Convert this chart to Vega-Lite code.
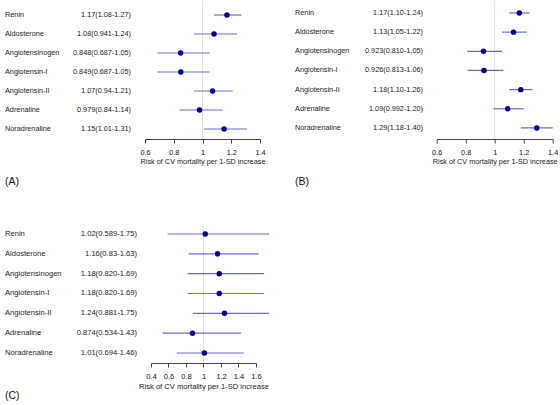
{
  "$schema": "https://vega.github.io/schema/vega-lite/v6.json",
  "padding": {"left": 4, "top": 0, "right": 0, "bottom": 0},
  "background": "white",
  "datasets": {
    "A": [
      {"marker": "Renin", "est": 1.17, "lo": 1.08, "hi": 1.27, "label": "1.17(1.08-1.27)"},
      {"marker": "Aldosterone", "est": 1.08, "lo": 0.941, "hi": 1.24, "label": "1.08(0.941-1.24)"},
      {"marker": "Angiotensinogen", "est": 0.848, "lo": 0.687, "hi": 1.05, "label": "0.848(0.687-1.05)"},
      {"marker": "Angiotensin-I", "est": 0.849, "lo": 0.687, "hi": 1.05, "label": "0.849(0.687-1.05)"},
      {"marker": "Angiotensin-II", "est": 1.07, "lo": 0.94, "hi": 1.21, "label": "1.07(0.94-1.21)"},
      {"marker": "Adrenaline", "est": 0.979, "lo": 0.84, "hi": 1.14, "label": "0.979(0.84-1.14)"},
      {"marker": "Noradrenaline", "est": 1.15, "lo": 1.01, "hi": 1.31, "label": "1.15(1.01-1.31)"}
    ],
    "B": [
      {"marker": "Renin", "est": 1.17, "lo": 1.10, "hi": 1.24, "label": "1.17(1.10-1.24)"},
      {"marker": "Aldosterone", "est": 1.13, "lo": 1.05, "hi": 1.22, "label": "1.13(1.05-1.22)"},
      {"marker": "Angiotensinogen", "est": 0.923, "lo": 0.810, "hi": 1.05, "label": "0.923(0.810-1.05)"},
      {"marker": "Angiotensin-I", "est": 0.926, "lo": 0.813, "hi": 1.06, "label": "0.926(0.813-1.06)"},
      {"marker": "Angiotensin-II", "est": 1.18, "lo": 1.10, "hi": 1.26, "label": "1.18(1.10-1.26)"},
      {"marker": "Adrenaline", "est": 1.09, "lo": 0.992, "hi": 1.20, "label": "1.09(0.992-1.20)"},
      {"marker": "Noradrenaline", "est": 1.29, "lo": 1.18, "hi": 1.40, "label": "1.29(1.18-1.40)"}
    ],
    "C": [
      {"marker": "Renin", "est": 1.02, "lo": 0.589, "hi": 1.75, "label": "1.02(0.589-1.75)"},
      {"marker": "Aldosterone", "est": 1.16, "lo": 0.83, "hi": 1.63, "label": "1.16(0.83-1.63)"},
      {"marker": "Angiotensinogen", "est": 1.18, "lo": 0.820, "hi": 1.69, "label": "1.18(0.820-1.69)"},
      {"marker": "Angiotensin-I", "est": 1.18, "lo": 0.820, "hi": 1.69, "label": "1.18(0.820-1.69)"},
      {"marker": "Angiotensin-II", "est": 1.24, "lo": 0.881, "hi": 1.75, "label": "1.24(0.881-1.75)"},
      {"marker": "Adrenaline", "est": 0.874, "lo": 0.534, "hi": 1.43, "label": "0.874(0.534-1.43)"},
      {"marker": "Noradrenaline", "est": 1.01, "lo": 0.694, "hi": 1.46, "label": "1.01(0.694-1.46)"}
    ],
    "ref": [{"ref": 1}]
  },
  "columns": 2,
  "bounds": "flush",
  "spacing": {"row": 87, "column": 176.7},
  "concat": [
    {
      "width": 115, "height": 138,
      "data": {"name": "A"},
      "title": {"text": "(A)", "orient": "bottom", "anchor": "start", "frame": "bounds", "offset": 11.5, "fontSize": 10.5, "fontWeight": "normal", "color": "#111"},
      "layer": [
        {"data": {"name": "ref"}, "mark": {"type": "rule", "color": "#e2e2e2", "strokeWidth": 1},
         "encoding": {"x": {"field": "ref", "type": "quantitative", "scale": {"domain": [0.6, 1.4], "nice": false, "zero": false}, "axis": {"title": "Risk of CV mortality per 1-SD increase", "values": [0.6, 0.8, 1, 1.2, 1.4], "labelFontSize": 7.3, "titleFontSize": 7.3}}}},
        {"mark": {"type": "rule", "color": "#6b6bcc", "strokeWidth": 1.2},
         "encoding": {"y": {"field": "marker", "type": "nominal", "sort": null, "axis": null, "scale": {"type": "point", "padding": 0.632, "align": 0.583}},
                      "x": {"field": "lo", "type": "quantitative", "axis": {"title": "Risk of CV mortality per 1-SD increase", "values": [0.6, 0.8, 1, 1.2, 1.4], "labelFontSize": 7.3, "titleFontSize": 7.3}},
                      "x2": {"field": "hi"}}},
        {"mark": {"type": "circle", "color": "#00008b", "opacity": 1, "size": 30},
         "encoding": {"y": {"field": "marker", "type": "nominal", "sort": null},
                      "x": {"field": "est", "type": "quantitative", "axis": {"title": "Risk of CV mortality per 1-SD increase", "values": [0.6, 0.8, 1, 1.2, 1.4], "labelFontSize": 7.3, "titleFontSize": 7.3}}}},
        {"mark": {"type": "text", "align": "left", "fontSize": 7.3, "color": "#222"},
         "encoding": {"y": {"field": "marker", "type": "nominal", "sort": null},
                      "x": {"datum": -0.3739, "type": "quantitative", "axis": {"title": "Risk of CV mortality per 1-SD increase", "values": [0.6, 0.8, 1, 1.2, 1.4], "labelFontSize": 7.3, "titleFontSize": 7.3}},
                      "text": {"field": "marker"}}},
        {"mark": {"type": "text", "align": "right", "fontSize": 7.3, "color": "#222"},
         "encoding": {"y": {"field": "marker", "type": "nominal", "sort": null},
                      "x": {"datum": 0.5026, "type": "quantitative", "axis": {"title": "Risk of CV mortality per 1-SD increase", "values": [0.6, 0.8, 1, 1.2, 1.4], "labelFontSize": 7.3, "titleFontSize": 7.3}},
                      "text": {"field": "label"}}}
      ]
    },
    {
      "width": 116, "height": 138,
      "data": {"name": "B"},
      "title": {"text": "(B)", "orient": "bottom", "anchor": "start", "frame": "bounds", "offset": 11.5, "fontSize": 10.5, "fontWeight": "normal", "color": "#111"},
      "layer": [
        {"data": {"name": "ref"}, "mark": {"type": "rule", "color": "#e2e2e2", "strokeWidth": 1},
         "encoding": {"x": {"field": "ref", "type": "quantitative", "scale": {"domain": [0.6, 1.4], "nice": false, "zero": false}, "axis": {"title": "Risk of CV mortality per 1-SD increase", "values": [0.6, 0.8, 1, 1.2, 1.4], "labelFontSize": 7.3, "titleFontSize": 7.3}}}},
        {"mark": {"type": "rule", "color": "#6b6bcc", "strokeWidth": 1.2},
         "encoding": {"y": {"field": "marker", "type": "nominal", "sort": null, "axis": null, "scale": {"type": "point", "padding": 0.6, "align": 0.52}},
                      "x": {"field": "lo", "type": "quantitative", "axis": {"title": "Risk of CV mortality per 1-SD increase", "values": [0.6, 0.8, 1, 1.2, 1.4], "labelFontSize": 7.3, "titleFontSize": 7.3}},
                      "x2": {"field": "hi"}}},
        {"mark": {"type": "circle", "color": "#00008b", "opacity": 1, "size": 30},
         "encoding": {"y": {"field": "marker", "type": "nominal", "sort": null},
                      "x": {"field": "est", "type": "quantitative", "axis": {"title": "Risk of CV mortality per 1-SD increase", "values": [0.6, 0.8, 1, 1.2, 1.4], "labelFontSize": 7.3, "titleFontSize": 7.3}}}},
        {"mark": {"type": "text", "align": "left", "fontSize": 7.3, "color": "#222"},
         "encoding": {"y": {"field": "marker", "type": "nominal", "sort": null},
                      "x": {"datum": -0.377, "type": "quantitative", "axis": {"title": "Risk of CV mortality per 1-SD increase", "values": [0.6, 0.8, 1, 1.2, 1.4], "labelFontSize": 7.3, "titleFontSize": 7.3}},
                      "text": {"field": "marker"}}},
        {"mark": {"type": "text", "align": "right", "fontSize": 7.3, "color": "#222"},
         "encoding": {"y": {"field": "marker", "type": "nominal", "sort": null},
                      "x": {"datum": 0.5055, "type": "quantitative", "axis": {"title": "Risk of CV mortality per 1-SD increase", "values": [0.6, 0.8, 1, 1.2, 1.4], "labelFontSize": 7.3, "titleFontSize": 7.3}},
                      "text": {"field": "label"}}}
      ]
    },
    {
      "width": 115, "height": 137,
      "data": {"name": "C"},
      "title": {"text": "(C)", "orient": "bottom", "anchor": "start", "frame": "bounds", "offset": 1, "fontSize": 10.5, "fontWeight": "normal", "color": "#111"},
      "layer": [
        {"data": {"name": "ref"}, "mark": {"type": "rule", "color": "#e2e2e2", "strokeWidth": 1},
         "encoding": {"x": {"field": "ref", "type": "quantitative", "scale": {"domain": [0.4, 1.6], "range": [6, 111], "nice": false, "zero": false}, "axis": {"title": "Risk of CV mortality per 1-SD increase", "values": [0.4, 0.6, 0.8, 1, 1.2, 1.4, 1.6], "labelFontSize": 7.6, "titleFontSize": 7.6}}}},
        {"mark": {"type": "rule", "color": "#6b6bcc", "strokeWidth": 1.2},
         "encoding": {"y": {"field": "marker", "type": "nominal", "sort": null, "axis": null, "scale": {"type": "point", "padding": 0.454, "align": 0.444}},
                      "x": {"field": "lo", "type": "quantitative", "axis": {"title": "Risk of CV mortality per 1-SD increase", "values": [0.4, 0.6, 0.8, 1, 1.2, 1.4, 1.6], "labelFontSize": 7.6, "titleFontSize": 7.6}},
                      "x2": {"field": "hi"}}},
        {"mark": {"type": "circle", "color": "#00008b", "opacity": 1, "size": 30},
         "encoding": {"y": {"field": "marker", "type": "nominal", "sort": null},
                      "x": {"field": "est", "type": "quantitative", "axis": {"title": "Risk of CV mortality per 1-SD increase", "values": [0.4, 0.6, 0.8, 1, 1.2, 1.4, 1.6], "labelFontSize": 7.6, "titleFontSize": 7.6}}}},
        {"mark": {"type": "text", "align": "left", "fontSize": 7.6, "color": "#222"},
         "encoding": {"y": {"field": "marker", "type": "nominal", "sort": null},
                      "x": {"datum": -1.2686, "type": "quantitative", "axis": {"title": "Risk of CV mortality per 1-SD increase", "values": [0.4, 0.6, 0.8, 1, 1.2, 1.4, 1.6], "labelFontSize": 7.6, "titleFontSize": 7.6}},
                      "text": {"field": "marker"}}},
        {"mark": {"type": "text", "align": "right", "fontSize": 7.6, "color": "#222"},
         "encoding": {"y": {"field": "marker", "type": "nominal", "sort": null},
                      "x": {"datum": 0.24, "type": "quantitative", "axis": {"title": "Risk of CV mortality per 1-SD increase", "values": [0.4, 0.6, 0.8, 1, 1.2, 1.4, 1.6], "labelFontSize": 7.6, "titleFontSize": 7.6}},
                      "text": {"field": "label"}}}
      ]
    }
  ],
  "config": {
    "font": "Liberation Sans",
    "view": {"stroke": null},
    "axisX": {
      "grid": false, "domainColor": "#444", "tickColor": "#444", "tickSize": 4,
      "labelColor": "#111", "titleColor": "#222",
      "titleFontWeight": "normal", "labelPadding": 5.5, "titlePadding": 2,
      "labelFlush": false, "labelOverlap": false, "labelBound": false, "domainWidth": 1, "tickWidth": 1,
      "labelExpr": "abs(datum.value - 1) < 0.001 ? '1' : format(datum.value, '.1f')"
    }
  }
}
